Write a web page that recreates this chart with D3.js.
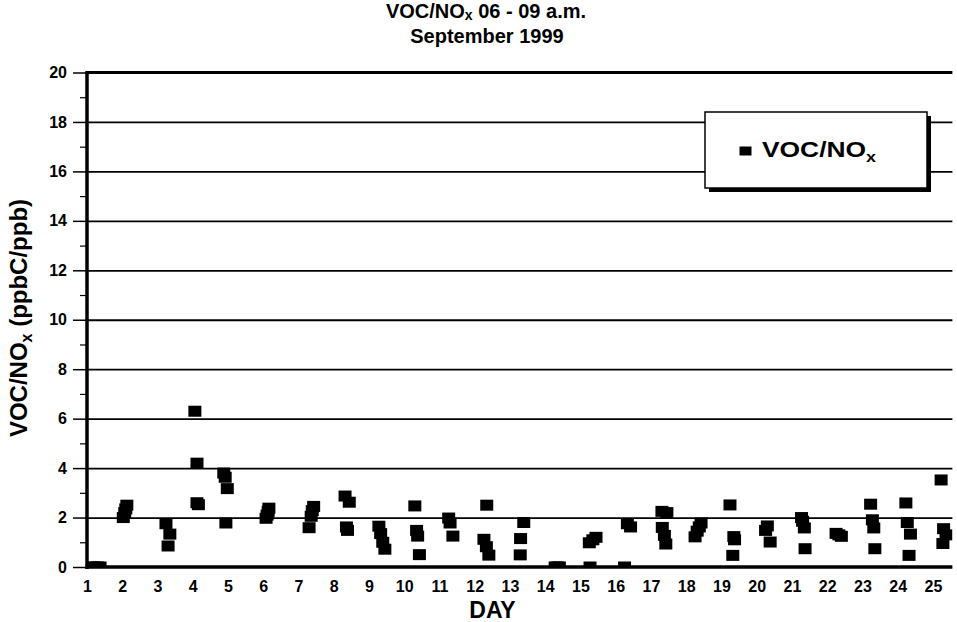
<!DOCTYPE html>
<html><head><meta charset="utf-8">
<script src="https://cdn.jsdelivr.net/npm/d3@7"></script>
<style>
html,body{margin:0;padding:0;background:#fff;}
svg text{font-family:"Liberation Sans",Arial,Helvetica,sans-serif;font-weight:bold;fill:#000;}
</style></head><body>
<svg id="chart" width="957" height="622"></svg>
<script>
// Sample times (day of September 1999, fractional day, 06-09 a.m.)
const dayTimes = [
  1.15,1.22,1.30,1.37,
  2.03,2.07,2.10,2.13,
  3.24,3.30,3.35,
  4.06,4.12,4.12,4.16,
  4.88,4.92,4.98,4.94,
  6.08,6.11,6.14,6.16,
  7.30,7.36,7.39,7.43,
  8.32,8.44,8.36,8.39,
  9.28,9.33,9.39,9.45,
  10.30,10.35,10.38,10.43,
  11.26,11.30,11.38,
  12.34,12.26,12.33,12.40,
  13.29,13.30,13.39,
  14.28,14.34,14.40,
  15.27,15.25,15.35,15.44,
  16.25,16.33,16.42,
  17.31,17.45,17.32,17.38,17.42,
  18.25,18.31,18.37,18.42,
  19.24,19.32,19.35,19.37,
  20.25,20.30,20.38,
  21.27,21.30,21.35,21.37,
  22.25,22.33,22.40,
  23.23,23.28,23.32,23.35,
  24.23,24.27,24.36,24.32,
  25.23,25.30,25.37,25.28
];
// VOC/NOx ratio (ppbC/ppb)
const ratios = [
  0,0,0,0,
  2.0,2.2,2.35,2.5,
  1.75,0.85,1.33,
  6.3,4.2,2.6,2.52,
  3.8,3.63,3.17,1.78,
  1.97,2.1,2.25,2.38,
  1.59,2.05,2.28,2.45,
  2.87,2.62,1.62,1.48,
  1.65,1.35,1.0,0.72,
  2.47,1.48,1.25,0.5,
  1.98,1.78,1.25,
  2.5,1.12,0.82,0.48,
  0.49,1.15,1.8,
  0,0,0,
  0,0.98,1.1,1.2,
  0,1.75,1.62,
  2.25,2.2,1.6,1.28,0.93,
  1.22,1.45,1.62,1.78,
  2.51,0.47,1.23,1.1,
  1.48,1.66,1.01,
  2.0,1.85,1.58,0.74,
  1.36,1.3,1.24,
  2.54,1.91,1.58,0.74,
  2.59,1.8,1.33,0.47,
  3.52,1.55,1.3,0.95
];
const xTicks = d3.range(1, 26);               // day labels 1..25
const yTicks = [0,2,4,6,8,10,12,14,16,18,20];
const yMinorTicks = [1,3,5,7,9,11,13,15,17,19];
const gridValues = [2,4,6,8,10,12,14,16,18];
const seriesName = "VOC/NO";
const seriesSub = "x";

const svg = d3.select("#chart");
const x = d3.scaleLinear().domain([1, 25.55]).range([87, 952.4]);
const y = d3.scaleLinear().domain([0, 20]).range([567, 72.5]);
const x0 = x.range()[0], x1 = x.range()[1];

// clip
svg.append("defs").append("clipPath").attr("id","plot")
  .append("rect").attr("x",x0).attr("y",y(20)).attr("width",x1-x0).attr("height",y(0)-y(20));

// gridlines
const grid = svg.append("g").attr("transform",`translate(${x0},0)`)
  .call(d3.axisLeft(y).tickValues(gridValues).tickSize(-(x1-x0)).tickFormat(""));
grid.select(".domain").remove();
grid.selectAll("line").attr("stroke","#000").attr("stroke-width",1.8);

// top border
svg.append("line").attr("x1",x0).attr("x2",x1).attr("y1",y(20)).attr("y2",y(20))
  .attr("stroke","#000").attr("stroke-width",3);

// markers
svg.append("g").attr("clip-path","url(#plot)")
  .selectAll("rect").data(ratios).join("rect")
  .attr("x",(d,i)=>x(dayTimes[i])-6.5)
  .attr("y",d=>y(d)-5.5)
  .attr("width",13).attr("height",11)
  .attr("fill","#000");

// y axis ticks + labels
const yAx = svg.append("g").attr("transform",`translate(${x0},0)`)
  .call(d3.axisLeft(y).tickValues(yTicks).tickSize(14).tickPadding(6));
yAx.select(".domain").remove();
yAx.selectAll("line").attr("stroke","#000").attr("stroke-width",1.5);
yAx.selectAll("text").attr("font-size",16);
const yMin = svg.append("g").attr("transform",`translate(${x0},0)`)
  .call(d3.axisLeft(y).tickValues(yMinorTicks).tickSize(7).tickFormat(""));
yMin.select(".domain").remove();
yMin.selectAll("line").attr("stroke","#000").attr("stroke-width",1.2);

// x axis labels
const xAx = svg.append("g").attr("transform",`translate(0,${y(0)})`)
  .call(d3.axisBottom(x).tickValues(xTicks).tickSize(0).tickPadding(14).tickFormat(d3.format("d")));
xAx.select(".domain").remove();
xAx.selectAll("text").attr("font-size",16);
svg.selectAll("g[font-family]").attr("font-family",null).attr("font-size",null);

// axis lines
svg.append("line").attr("x1",x0).attr("x2",x0).attr("y1",y(20)-1.5).attr("y2",y(0)+2)
  .attr("stroke","#000").attr("stroke-width",3.5);
svg.append("line").attr("x1",x0-1.5).attr("x2",x1).attr("y1",y(0)).attr("y2",y(0))
  .attr("stroke","#000").attr("stroke-width",3.5);

// title
const t1 = svg.append("text").attr("x",486).attr("y",18).attr("text-anchor","middle").attr("font-size",20);
t1.append("tspan").text("VOC/NO");
t1.append("tspan").text("x").attr("font-size",14).attr("dy",2);
t1.append("tspan").text(" 06 - 09 a.m.").attr("dy",-2);
svg.append("text").attr("x",487).attr("y",43).attr("text-anchor","middle").attr("font-size",20)
  .text("September 1999");

// y title
const yt = svg.append("text").attr("transform","translate(27,318) rotate(-90)")
  .attr("text-anchor","middle").attr("font-size",24);
yt.append("tspan").text("VOC/NO");
yt.append("tspan").text("x").attr("font-size",16).attr("dy",5);
yt.append("tspan").text(" (ppbC/ppb)").attr("dy",-5);

// x title
svg.append("text").attr("x",492.5).attr("y",618).attr("text-anchor","middle").attr("font-size",23).text("DAY");

// legend
const lg = svg.append("g");
lg.append("rect").attr("x",709).attr("y",116).attr("width",222).attr("height",76).attr("fill","#000");
lg.append("rect").attr("x",705).attr("y",112).attr("width",222).attr("height",76)
  .attr("fill","#fff").attr("stroke","#000").attr("stroke-width",1.5);
lg.append("rect").attr("x",739.5).attr("y",146.5).attr("width",12).attr("height",9).attr("fill","#000");
const lt = lg.append("g").attr("transform","translate(762,157) scale(1.2,1)")
  .append("text").attr("font-size",22);
lt.append("tspan").text(seriesName);
lt.append("tspan").text(seriesSub).attr("font-size",15).attr("dy",5);
</script>
</body></html>
